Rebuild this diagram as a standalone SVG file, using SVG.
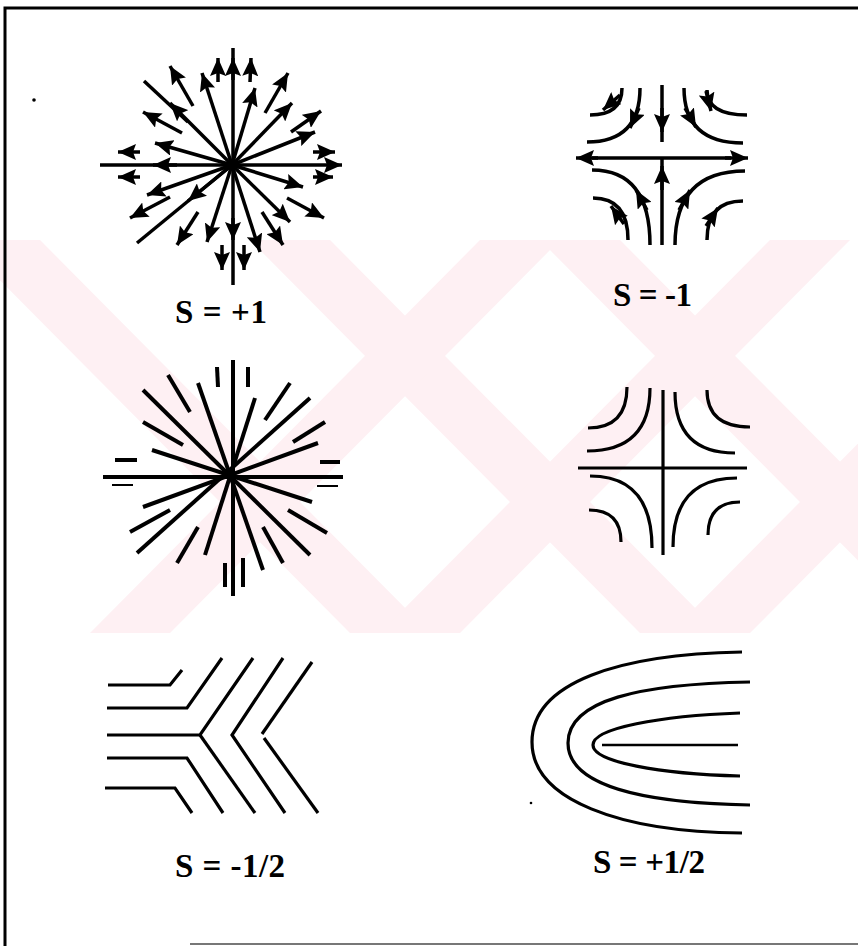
<svg xmlns="http://www.w3.org/2000/svg" width="858" height="946" viewBox="0 0 858 946">
<defs>
<marker id="ah" markerUnits="userSpaceOnUse" markerWidth="19" markerHeight="16" refX="18" refY="8" orient="auto">
<path d="M0,0 L18,8 L0,16 L3,8 z" fill="#000"/>
</marker>
<clipPath id="wm"><rect x="0" y="240" width="858" height="393"/></clipPath>
<style>
.l{stroke:#000;stroke-width:3.5;fill:none;stroke-linecap:butt}
.a{stroke:#000;stroke-width:3.5;fill:none;marker-end:url(#ah)}
.lbl{font-family:"Liberation Serif","Times New Roman",serif;font-weight:bold;font-size:33px;fill:#000}
.w{fill:#fef0f3}
</style>
</defs>
<rect width="858" height="946" fill="#fff"/>
<g id="watermark" clip-path="url(#wm)">
<polygon class="w" points="-40,240 40,240 430,633 350,633"/>
<polygon class="w" points="250,240 330,240 720,633 640,633"/>
<polygon class="w" points="540,240 620,240 1010,633 930,633"/>
<polygon class="w" points="480,240 560,240 170,633 90,633"/>
<polygon class="w" points="770,240 850,240 460,633 380,633"/>
<polygon class="w" points="1060,240 1140,240 750,633 670,633"/>
</g>
<g id="frame">
<path d="M5,946 L5,8 L858,8" fill="none" stroke="#000" stroke-width="3"/>
<line x1="190" y1="944" x2="858" y2="944" stroke="#777" stroke-width="2"/>
<circle cx="34" cy="100" r="1.8" fill="#000"/>
<circle cx="531" cy="803" r="1.3" fill="#000"/>
</g>
<g id="s-plus-1">
<line class="l" x1="233" y1="48" x2="233" y2="285"/>
<line class="l" x1="100" y1="165" x2="326" y2="165"/>
<line class="a" x1="326" y1="165" x2="342" y2="165"/>
<line class="a" x1="233" y1="80" x2="233" y2="58"/>
<line class="a" x1="233" y1="218" x2="233" y2="240"/>
<line class="a" x1="177" y1="165" x2="153" y2="165"/>
<line class="a" x1="232" y1="165" x2="202" y2="73"/>
<line class="a" x1="232" y1="165" x2="255" y2="88"/>
<line class="a" x1="232" y1="165" x2="292" y2="103"/>
<line class="a" x1="232" y1="165" x2="315" y2="132"/>
<line class="a" x1="232" y1="165" x2="303" y2="187"/>
<line class="a" x1="232" y1="165" x2="290" y2="222"/>
<line class="a" x1="232" y1="165" x2="260" y2="252"/>
<line class="a" x1="232" y1="165" x2="207" y2="242"/>
<line class="a" x1="232" y1="165" x2="147" y2="195"/>
<line class="a" x1="232" y1="165" x2="155" y2="143"/>
<line class="a" x1="232" y1="165" x2="170" y2="103"/>
<line class="l" x1="232" y1="165" x2="137" y2="243"/>
<line class="a" x1="232" y1="165" x2="188" y2="201"/>
<line class="a" x1="193" y1="106" x2="170" y2="66"/>
<line class="a" x1="218" y1="82" x2="218" y2="58"/>
<line class="a" x1="250" y1="82" x2="251" y2="58"/>
<line class="a" x1="265" y1="113" x2="288" y2="73"/>
<line class="a" x1="291" y1="132" x2="321" y2="111"/>
<line class="a" x1="313" y1="152" x2="335" y2="152"/>
<line class="a" x1="313" y1="177" x2="333" y2="177"/>
<line class="a" x1="140" y1="152" x2="118" y2="152"/>
<line class="a" x1="140" y1="177" x2="118" y2="177"/>
<line class="a" x1="222" y1="245" x2="222" y2="270"/>
<line class="a" x1="244" y1="245" x2="244" y2="270"/>
<line class="a" x1="287" y1="198" x2="324" y2="218"/>
<line class="a" x1="262" y1="212" x2="283" y2="245"/>
<line class="a" x1="198" y1="212" x2="177" y2="245"/>
<line class="a" x1="170" y1="197" x2="130" y2="218"/>
<line class="a" x1="182" y1="133" x2="143" y2="112"/>
<line class="l" x1="144" y1="81" x2="188" y2="122"/>
</g>
<g id="s-minus-1">
<line class="l" x1="592" y1="158" x2="731" y2="158"/>
<line class="a" x1="598" y1="158" x2="576" y2="158"/>
<line class="a" x1="725" y1="158" x2="748" y2="158"/>
<line class="l" x1="662" y1="85" x2="662" y2="142"/>
<line class="a" x1="662" y1="108" x2="662" y2="132"/>
<line class="l" x1="662" y1="245" x2="662" y2="158"/>
<line class="a" x1="662" y1="190" x2="662" y2="166"/>
<path class="l" d="M640,88 Q640,142 587,142"/>
<path class="l" d="M622,88 Q622,115 590,115"/>
<path class="l" d="M684,88 Q684,143 743,143"/>
<path class="l" d="M707,90 Q707,115 747,115"/>
<path class="l" d="M592,170 Q650,170 650,245"/>
<path class="l" d="M593,198 Q628,198 628,240"/>
<path class="l" d="M745,171 Q675,171 675,245"/>
<path class="l" d="M743,201 Q707,201 707,240"/>
<line class="a" x1="639" y1="108" x2="630" y2="128"/>
<line class="a" x1="620" y1="95" x2="603" y2="110"/>
<line class="a" x1="685" y1="108" x2="696" y2="127"/>
<line class="a" x1="706" y1="91" x2="711" y2="111"/>
<line class="a" x1="647" y1="210" x2="636" y2="190"/>
<line class="a" x1="624" y1="224" x2="611" y2="206"/>
<line class="a" x1="679" y1="210" x2="690" y2="190"/>
<line class="a" x1="706" y1="226" x2="718" y2="208"/>
</g>
<g id="dir-plus-1" stroke="#000" stroke-width="4" fill="none">
<line x1="233" y1="360" x2="233" y2="596"/>
<line x1="103" y1="477" x2="343" y2="477"/>
<line x1="143" y1="390" x2="310" y2="555"/>
<line x1="198" y1="383" x2="263" y2="570"/>
<line x1="152" y1="450" x2="312" y2="502"/>
<line x1="255" y1="398" x2="205" y2="555"/>
<line x1="318" y1="443" x2="143" y2="507"/>
<line x1="310" y1="398" x2="137" y2="553"/>
<line x1="168" y1="375" x2="190" y2="412"/>
<line x1="143" y1="422" x2="183" y2="445"/>
<line x1="217" y1="367" x2="218" y2="387"/>
<line x1="248" y1="367" x2="248" y2="387"/>
<line x1="290" y1="383" x2="265" y2="420"/>
<line x1="325" y1="422" x2="293" y2="442"/>
<line x1="115" y1="460" x2="137" y2="460"/>
<line x1="112" y1="485" x2="133" y2="485" stroke-width="2"/>
<line x1="320" y1="462" x2="340" y2="462"/>
<line x1="317" y1="486" x2="338" y2="486" stroke-width="2"/>
<line x1="170" y1="510" x2="130" y2="532"/>
<line x1="198" y1="527" x2="177" y2="563"/>
<line x1="225" y1="563" x2="225" y2="587"/>
<line x1="243" y1="558" x2="243" y2="587"/>
<line x1="263" y1="527" x2="283" y2="563"/>
<line x1="288" y1="510" x2="327" y2="533"/>
</g>
<g id="dir-minus-1" stroke="#000" stroke-width="3.2" fill="none">
<line x1="578" y1="468" x2="747" y2="468"/>
<line x1="663" y1="390" x2="663" y2="555"/>
<path d="M650,388 Q650,451 587,451"/>
<path d="M627,387 Q627,428 588,428"/>
<path d="M675,392 Q675,453 735,453"/>
<path d="M707,390 Q707,427 750,427"/>
<path d="M590,476 Q652,476 652,548"/>
<path d="M589,510 Q621,510 621,542"/>
<path d="M737,478 Q673,478 673,547"/>
<path d="M740,502 Q708,502 708,535"/>
</g>
<g id="s-minus-half" stroke="#000" stroke-width="3.2" fill="none">
<polyline points="108,685 170,685 182,670"/>
<polyline points="107,708 187,708 222,658"/>
<polyline points="107,735 200,735 253,658"/>
<line x1="200" y1="735" x2="255" y2="813"/>
<polyline points="107,758 187,758 223,813"/>
<polyline points="105,788 175,788 192,813"/>
<polyline points="283,658 232,735 285,813"/>
<line x1="312" y1="662" x2="262" y2="734"/>
<line x1="264" y1="738" x2="318" y2="813"/>
</g>
<g id="s-plus-half" stroke="#000" stroke-width="3.2" fill="none">
<path d="M742,652 C620,654 532,682 532,742 C532,800 620,832 742,833"/>
<path d="M750,682 C640,684 568,700 568,743 C568,785 640,803 750,805"/>
<path d="M740,713 C660,716 593,728 593,745 C593,762 660,774 740,776"/>
<line x1="602" y1="745" x2="738" y2="745" stroke-width="2.5"/>
</g>
<g id="labels">
<text class="lbl" x="175" y="323" textLength="92" lengthAdjust="spacing">S = +1</text>
<text class="lbl" x="613" y="306" textLength="79" lengthAdjust="spacing">S = -1</text>
<text class="lbl" x="175" y="877" textLength="110" lengthAdjust="spacing">S = -1/2</text>
<text class="lbl" x="593" y="873" textLength="112" lengthAdjust="spacing">S = +1/2</text>
</g>
</svg>
